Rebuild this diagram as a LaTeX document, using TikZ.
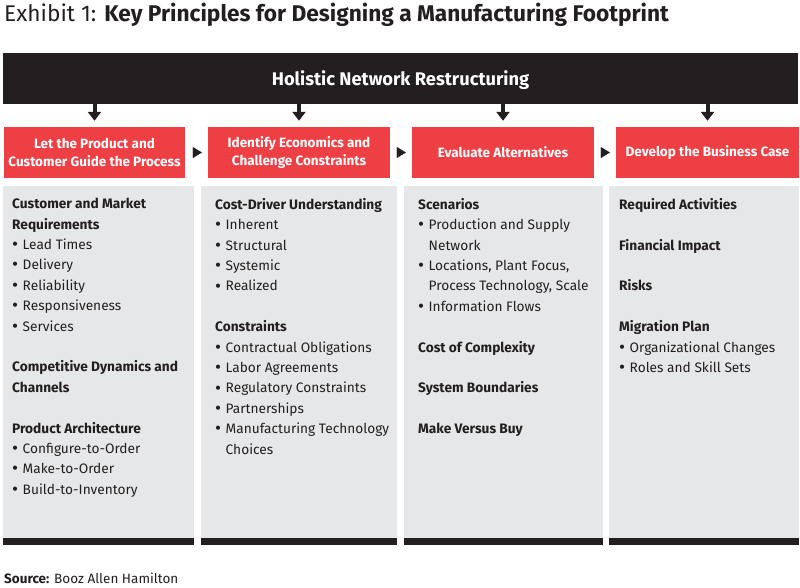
\documentclass[tikz,border=0pt]{standalone}
\usepackage{fontspec}
\setmainfont{Fira Sans}
\usetikzlibrary{positioning}
\usetikzlibrary{arrows.meta}
\definecolor{bahred}{HTML}{EE3F45}
\definecolor{bahgray}{HTML}{E6E7E8}
\definecolor{bahblack}{HTML}{231F20}
\newcommand{\bul}{\makebox[10.5pt][l]{\raisebox{-0.08em}{\scalebox{1.35}{\textbullet}}}}
\newcommand{\cont}{\hspace*{10.5pt}}
\tikzset{
  bar/.style={fill=bahblack, text=white, inner sep=0pt, text depth=0pt, font=\fontsize{18.3}{20}\selectfont\bfseries},
  stepbox/.style={fill=bahred, text=white, inner sep=0pt, minimum height=51pt, align=center, font=\fontsize{13.5}{18}\selectfont\bfseries},
  colbox/.style={fill=bahgray, inner sep=0pt},
  coltext/.style={anchor=north west, inner sep=0pt, align=left, text=bahblack, font=\fontsize{13.7}{20.4}\selectfont},
  downarrow/.style={bahblack, line width=4pt, -{Triangle[length=9pt,width=13pt]}, shorten >=6pt},
  sidearrow/.style={bahblack, line width=0.1pt, -{Triangle[length=9pt,width=11pt]}, shorten <=8pt, shorten >=6pt}
}
\begin{document}
\begin{tikzpicture}[x=1pt, y=-1pt]
        \useasboundingbox (0,0) rectangle (800,588);
        % Title
        \node[anchor=base west, inner sep=0pt, text=bahblack, font=\fontsize{22.7}{26}\selectfont] (title) at (4,22) {Exhibit 1: \textbf{Key Principles for Designing a Manufacturing Footprint}};
        
        % Holistic bar
        \node[bar, minimum width=795pt, minimum height=51pt] (bar) at (400.5,78.5) {Holistic Network Restructuring};
        
        % Red step boxes
        \node[stepbox, minimum width=181pt] (plan1) at (94.5,152.5) {Let the Product and\\Customer Guide the Process};
        \node[stepbox, minimum width=182pt] (plan2) at (299,152.5) {Identify Economics and\\Challenge Constraints};
        \node[stepbox, minimum width=182pt] (plan3) at (503,152.5) {Evaluate Alternatives};
        \node[stepbox, minimum width=183pt] (plan4) at (707.5,152.5) {Develop the Business Case};
        
        % Arrows from the bar down to each step
        \foreach \s in {plan1,plan2,plan3,plan4} {
            \draw[downarrow] (bar.south -| \s.north) -- (\s.north);
        }
        
        % Small triangles between steps
        \foreach \a/\b in {plan1/plan2, plan2/plan3, plan3/plan4} {
            \draw[sidearrow] (\a) -- (\b);
        }
        
        % Gray columns with black bottom strip
        \node[colbox, minimum width=191pt, minimum height=359pt] (col1) at (98.5,365.5) {};
        \node[colbox, minimum width=196pt, minimum height=359pt] (col2) at (299,365.5) {};
        \node[colbox, minimum width=199pt, minimum height=359pt] (col3) at (503.5,365.5) {};
        \node[colbox, minimum width=190pt, minimum height=359pt] (col4) at (704,365.5) {};
        \foreach \c in {col1,col2,col3,col4} {
            \fill[bahblack] ([yshift=7pt]\c.south west) rectangle (\c.south east);
        }
        
        % Column texts
        \node[coltext] (text1) at (12,198) {\textbf{Customer and Market}\\\textbf{Requirements}\\\bul Lead Times\\\bul Delivery\\\bul Reliability\\\bul Responsiveness\\\bul Services\\[20.4pt]\textbf{Competitive Dynamics and}\\\textbf{Channels}\\[20.4pt]\textbf{Product Architecture}\\\bul Configure-to-Order\\\bul Make-to-Order\\\bul Build-to-Inventory};
        \node[coltext] (text2) at (215,198) {\textbf{Cost-Driver Understanding}\\\bul Inherent\\\bul Structural\\\bul Systemic\\\bul Realized\\[20.4pt]\textbf{Constraints}\\\bul Contractual Obligations\\\bul Labor Agreements\\\bul Regulatory Constraints\\\bul Partnerships\\\bul Manufacturing Technology\\\cont Choices};
        \node[coltext] (text3) at (418,198) {\textbf{Scenarios}\\\bul Production and Supply\\\cont Network\\\bul Locations, Plant Focus,\\\cont Process Technology, Scale\\\bul Information Flows\\[20.4pt]\textbf{Cost of Complexity}\\[20.4pt]\textbf{System Boundaries}\\[20.4pt]\textbf{Make Versus Buy}};
        \node[coltext] (text4) at (619,198) {\textbf{Required Activities}\\[20.4pt]\textbf{Financial Impact}\\[20.4pt]\textbf{Risks}\\[20.4pt]\textbf{Migration Plan}\\\bul Organizational Changes\\\bul Roles and Skill Sets};
        
        % Source
        \node[anchor=base west, inner sep=0pt, text=bahblack, font=\fontsize{13.5}{16}\selectfont] (source) at (4,583) {\textbf{Source:} Booz Allen Hamilton};
        
    \end{tikzpicture}
\end{document}
